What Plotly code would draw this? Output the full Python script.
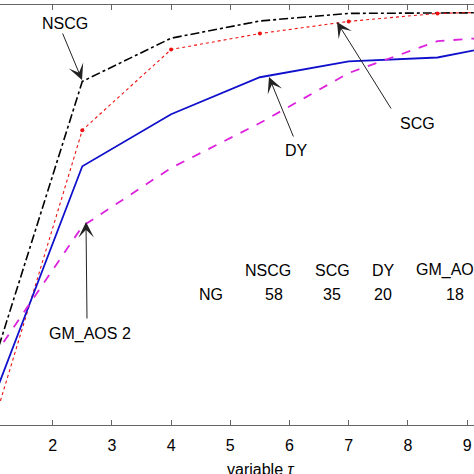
import plotly.graph_objects as go

# data
tau = [1, 2.5, 4, 5.5, 7, 8.5, 10]
nscg = [0.147, 0.818, 0.921, 0.962, 0.980, 0.980, 0.982]
scg = [0.003, 0.702, 0.894, 0.932, 0.961, 0.980, 0.985]
dy = [0.064, 0.616, 0.740, 0.828, 0.866, 0.875, 0.916]
gm_aos2 = [0.162, 0.473, 0.612, 0.719, 0.838, 0.914, 0.929]

table_solvers = ['NSCG', 'SCG', 'DY', 'GM_AOS 2']
table_ng = [58, 35, 20, 18]
xticks = [2, 3, 4, 5, 6, 7, 8, 9]

FONT = 'Liberation Sans, Arial, sans-serif'


# helpers: picture pixel -> data coords (only used to place annotations)
def px_x(px):
    return 2 + (px - 52.7) / 59.2


def px_y(py):
    return (425 - py) / 420


fig = go.Figure()

fig.add_trace(go.Scatter(x=tau, y=nscg, name='NSCG', mode='lines',
                         line=dict(color='black', width=1.6, dash='dashdot')))
fig.add_trace(go.Scatter(x=tau, y=scg, name='SCG', mode='lines+markers',
                         line=dict(color='#ee1111', width=1.1, dash='dot'),
                         marker=dict(color='#ee1111', size=4)))
fig.add_trace(go.Scatter(x=tau, y=dy, name='DY', mode='lines',
                         line=dict(color='#1010cc', width=1.8)))
fig.add_trace(go.Scatter(x=tau, y=gm_aos2, name='GM_AOS 2', mode='lines',
                         line=dict(color='#dd22dd', width=1.8, dash='dash')))

annotations = []

# labels with arrows: (text, text centre px, arrow tail px, arrow head px)
arrows = [
    ('NSCG', (65, 23), (62, 32), (82, 80)),
    ('SCG', (417, 123), (392, 110), (337, 22)),
    ('DY', (296, 150), (294, 138), (269, 77)),
    ('GM_AOS 2', (90, 334), (87, 320), (86, 222)),
]
for label, tc, tail, head in arrows:
    annotations.append(dict(
        x=px_x(head[0]), y=px_y(head[1]), xref='x', yref='y',
        ax=tail[0] - head[0], ay=tail[1] - head[1],
        text='', showarrow=True, arrowhead=3, arrowsize=2.6,
        arrowwidth=1, arrowcolor='#222222'))
    annotations.append(dict(
        x=px_x(tc[0]), y=px_y(tc[1]), xref='x', yref='y',
        text=label, showarrow=False, font=dict(size=16, color='black', family=FONT)))

# small table inside the axes
head_x = [268, 332, 383, 457]
val_x = [274, 332, 383, 455]
for name, hx in zip(table_solvers, head_x):
    annotations.append(dict(x=px_x(hx), y=px_y(270), xref='x', yref='y', text=name,
                            showarrow=False, font=dict(size=16, color='black', family=FONT)))
annotations.append(dict(x=px_x(211), y=px_y(294), xref='x', yref='y', text='NG',
                        showarrow=False, font=dict(size=16, color='black', family=FONT)))
for v, vx in zip(table_ng, val_x):
    annotations.append(dict(x=px_x(vx), y=px_y(294), xref='x', yref='y', text=str(v),
                            showarrow=False, font=dict(size=16, color='black', family=FONT)))

# x label (placed by hand, the axes are cropped)
annotations.append(dict(x=px_x(260), y=-0.08, xref='x', yref='paper', yanchor='top',
                        text='variable <i>τ</i>', showarrow=False,
                        font=dict(size=16, color='black', family=FONT)))

fig.update_layout(
    width=474, height=474,
    margin=dict(l=0, r=0, t=5, b=49),
    paper_bgcolor='white', plot_bgcolor='white',
    showlegend=False,
    font=dict(family=FONT, size=16, color='black'),
    xaxis=dict(range=[px_x(0), px_x(474)], tickvals=xticks,
               showline=True, mirror='ticks', linecolor='#666666', linewidth=1,
               ticks='inside', ticklen=5, tickcolor='#666666',
               showgrid=False, zeroline=False, ticklabelstandoff=6,
               tickfont=dict(size=16, color='black', family=FONT)),
    yaxis=dict(range=[0, 1], visible=False),
    annotations=annotations,
)

# no page margin, so the figure sits at the top-left corner of the window
fig.write_html("out.html", config={'displayModeBar': False},
               post_script="document.body.style.margin='0';")
